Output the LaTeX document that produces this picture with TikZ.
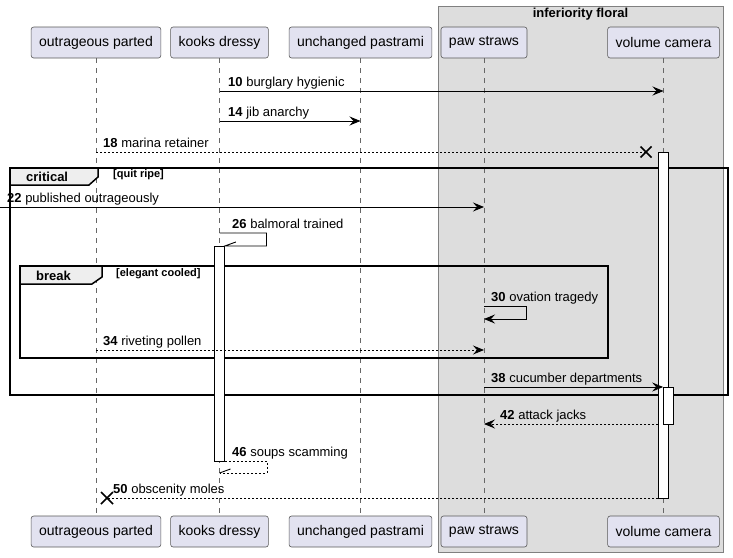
\documentclass[tikz,border=0pt]{standalone}
\usepackage{fontspec}
\setmainfont{Liberation Sans}
\usetikzlibrary{arrows.meta}
\definecolor{partfill}{HTML}{E2E2F0}
\definecolor{boxfill}{HTML}{DDDDDD}
\definecolor{tabfill}{HTML}{EEEEEE}

\begin{document}
\begin{tikzpicture}[x=1pt,y=-1pt,
  part/.style={draw=black!65,fill=partfill,rounded corners=2.5pt,line width=.6pt,inner xsep=8pt,minimum height=31pt,font=\fontsize{14}{17}\selectfont},
  life/.style={draw=black!60,line width=.6pt,dash pattern=on 5pt off 5pt},
  act/.style={draw,fill=white,line width=.7pt,minimum width=10pt,inner sep=0pt,anchor=north},
  msg/.style={line width=.9pt,-{Stealth[length=11pt,width=9pt,inset=4pt]}},
  reply/.style={msg,dash pattern=on 2pt off 2pt},
  lbl/.style={anchor=base west,inner sep=0pt,font=\fontsize{13}{15}\selectfont},
  flbl/.style={anchor=west,inner sep=0pt,font=\bfseries\fontsize{13}{15}\selectfont},
  cond/.style={anchor=west,inner sep=0pt,font=\bfseries\fontsize{11}{13}\selectfont},
  frame/.style={line width=1.5pt},
  tabf/.style={frame,fill=tabfill},
  cross/.style={line width=1.6pt}]
      \useasboundingbox (0,0) rectangle (733,557);
      % box round the last two
      \filldraw[fill=boxfill,draw=black!50,line width=.8pt] (438,6) rectangle (723,552);
      \node[font=\bfseries\fontsize{13}{15}\selectfont] (grp) at (580.5,14.5) {inferiority floral};
      \foreach \n/\x/\t in {op/96/outrageous parted,kd/219.5/kooks dressy,up/360.5/unchanged pastrami,ps/484/paw straws,vc/663.5/volume camera}{
        \node[part] (\n) at (\x,42.5) {\t};
        \node[part] (\n-b) at (\x,531.5) {\t};
        \draw[life] (\n) -- (\n-b);
      }
      % frames
      \draw[frame] (10,168) rectangle (728,395);
      \filldraw[tabf] (10,168) -- (98,168) -- (98,177) -- (89,185) -- (10,185) -- cycle;
      \node[flbl] (crit) at (26,177) {critical};
      \node[cond] at (113,175) {[quit ripe]};
      \draw[frame] (20,266) rectangle (608,358);
      \filldraw[tabf] (20,266) -- (102,266) -- (102,277) -- (92,284) -- (20,284) -- cycle;
      \node[flbl] (brk) at (36,276) {break};
      \node[cond] at (116,274) {[elegant cooled]};
      % activations
      \node[act,minimum height=346pt] (vca) at (vc |- 0,152) {};
      \node[act,minimum height=37pt] (vcn) at (668.5,387) {};
      \node[act,minimum height=215pt] (kda) at (kd |- 0,246) {};
      % messages
      \draw[msg] (kd |- 0,91) -- (vc |- 0,91);
      \node[lbl] at (228,86) {\textbf{10} burglary hygienic};
      \draw[msg] (kd |- 0,121) -- (up |- 0,121);
      \node[lbl] at (228,116) {\textbf{14} jib anarchy};
      \coordinate (x18) at (646,152);
      \draw[reply,-] (op |- 0,152) -- (x18);
      \draw[cross] ([shift={(-5.5,-5.5)}]x18) -- ([shift={(5.5,5.5)}]x18) ([shift={(-5.5,5.5)}]x18) -- ([shift={(5.5,-5.5)}]x18);
      \node[lbl] at (103,147) {\textbf{18} marina retainer};
      \coordinate (in22) at (0,207);
      \draw[msg] (in22) -- (ps |- 0,207);
      \node[lbl] at (7,202) {\textbf{22} published outrageously};
      \draw[line width=.9pt] (kd |- 0,233) -- (266.5,233) -- (266.5,246) -- (kda.east |- 0,246) -- ++(11,-4);
      \node[lbl] at (232,228) {\textbf{26} balmoral trained};
      \draw[msg] (ps |- 0,306) -- (526,306) -- (526,319) -- (ps |- 0,319);
      \node[lbl] at (491,301) {\textbf{30} ovation tragedy};
      \draw[reply] (op |- 0,350) -- (ps |- 0,350);
      \node[lbl] at (103,345) {\textbf{34} riveting pollen};
      \draw[msg] (ps |- 0,387) -- (vcn.west |- 0,387);
      \node[lbl] at (491,382) {\textbf{38} cucumber departments};
      \draw[reply] (vca.west |- 0,424) -- (ps |- 0,424);
      \node[lbl] at (500,419) {\textbf{42} attack jacks};
      \draw[reply,-] (kda.east |- 0,461) -- (267,461) -- (267,473) -- (kd |- 0,473);
      \draw[line width=.9pt] (kd |- 0,473) -- ++(11,-4);
      \node[lbl] at (232,456) {\textbf{46} soups scamming};
      \coordinate (x50) at (107,498);
      \draw[reply,-] (vca.west |- 0,498) -- (x50);
      \draw[cross] ([shift={(-6,-6)}]x50) -- ([shift={(6,6)}]x50) ([shift={(-6,6)}]x50) -- ([shift={(6,-6)}]x50);
      \node[lbl] at (113,493) {\textbf{50} obscenity moles};
    \end{tikzpicture}
\end{document}
